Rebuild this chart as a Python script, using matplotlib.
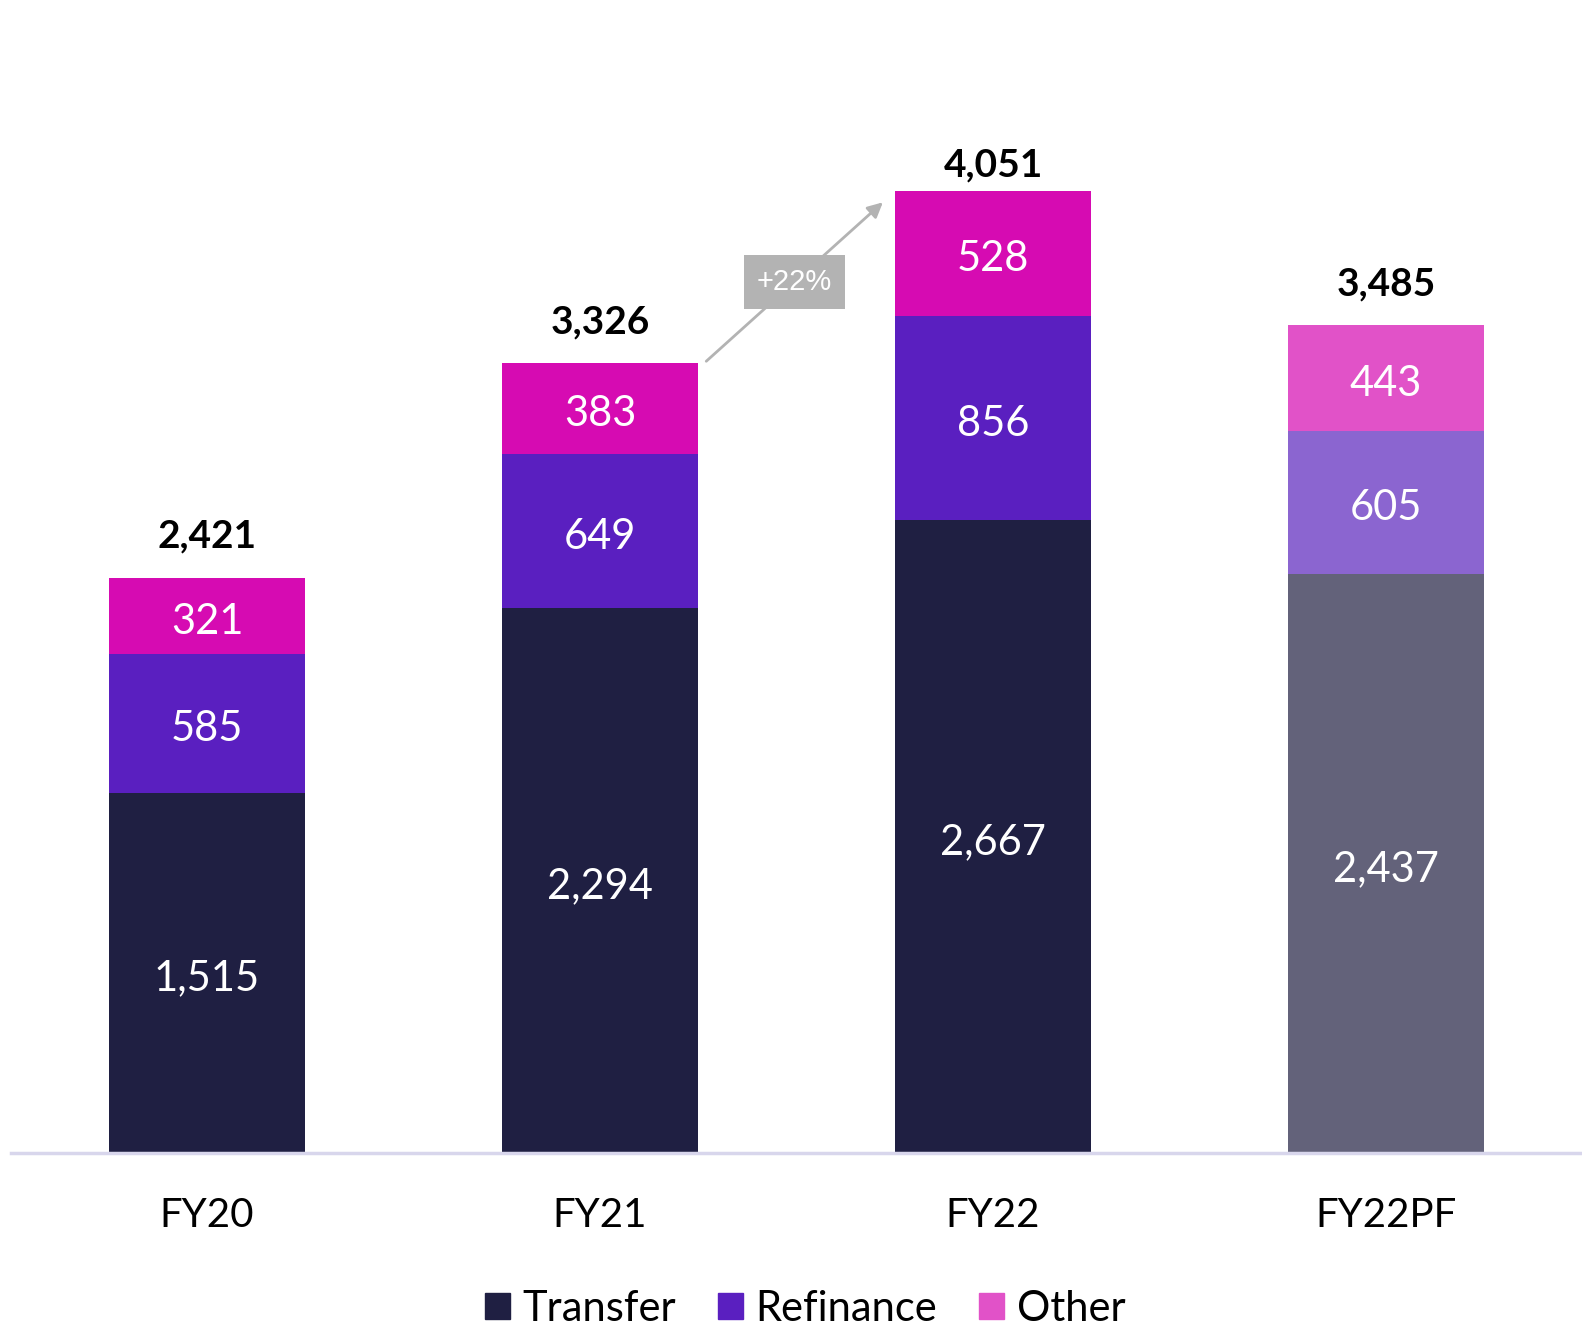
import numpy as np
import matplotlib.pyplot as plt
from matplotlib.patches import Patch

years = ["FY20", "FY21", "FY22", "FY22PF"]
transfer = [1515, 2294, 2667, 2437]
refinance = [585, 649, 856, 605]
other = [321, 383, 528, 443]
totals = [2421, 3326, 4051, 3485]

plt.rcParams['font.family'] = ['Lato', 'DejaVu Sans']

c_tr = ['#1f1f42', '#1f1f42', '#1f1f42', '#63627a']
c_rf = ['#5a1fc0', '#5a1fc0', '#5a1fc0', '#8b65d0']
c_ot = ['#d60bb2', '#d60bb2', '#d60bb2', '#e152c8']

fig = plt.figure(figsize=(15.82, 13.41), dpi=100)
ax = fig.add_axes([0.007, 0.1402, 0.993, 0.8598])

x = np.arange(len(years))
w = 0.5
tr = np.array(transfer)
rf = np.array(refinance)
ot = np.array(other)

ax.bar(x, tr, w, color=c_tr)
ax.bar(x, rf, w, bottom=tr, color=c_rf)
ax.bar(x, ot, w, bottom=tr + rf, color=c_ot)

for i in range(len(years)):
    for val, mid in [(tr[i], tr[i] / 2), (rf[i], tr[i] + rf[i] / 2), (ot[i], tr[i] + rf[i] + ot[i] / 2)]:
        ax.annotate(f"{val:,}", (x[i], mid), xytext=(0, -4), textcoords='offset points',
                    ha='center', va='center', color='white', fontsize=30)
    # total label above the bar, kept below the top of the plot area
    ty = min(totals[i] + 175, 4160)
    ax.text(x[i], ty, f"{totals[i]:,}", ha='center', va='center', fontsize=28,
            fontweight='bold', color='black')

# growth arrow FY21 -> FY22
x0, y0 = x[1] + w / 2 + 0.015, totals[1]
x1, y1 = x[2] - w / 2 - 0.025, totals[2] - 40
ax.annotate("", xy=(x1, y1), xytext=(x0, y0),
            arrowprops=dict(arrowstyle='-|>,head_length=0.9,head_width=0.45', color='#b3b3b3', lw=2))
growth = totals[2] / totals[1] - 1
ax.text((x0 + x1) / 2, (y0 + y1) / 2, f"+{growth:.0%}", ha='center', va='center', color='white',
        fontsize=21, family='Liberation Sans',
        bbox=dict(boxstyle='square,pad=0.45', fc='#b3b3b3', ec='none'))

ax.set_xlim(-0.4987, 3.4987)
ax.set_ylim(0, 4855)
ax.set_xticks(x)
ax.set_xticklabels(years, fontsize=29)
ax.tick_params(axis='x', length=0, pad=32)
ax.set_yticks([])
for s in ['top', 'right', 'left']:
    ax.spines[s].set_visible(False)
ax.spines['bottom'].set_color('#d8d6ec')
ax.spines['bottom'].set_linewidth(2.5)
ax.spines['bottom'].set_zorder(5)

labels = ["Transfer", "Refinance", "Other"]
hs = [Patch(color='#1f1f42'), Patch(color='#5a1fc0'), Patch(color='#e152c8')]
fig.legend(hs, labels, loc='center', bbox_to_anchor=(0.509, 0.0239), ncol=3, frameon=False,
           fontsize=30, handlelength=0.6, handleheight=0.6, handletextpad=0.3, columnspacing=1.0)

fig.savefig("out.png", dpi=100)
